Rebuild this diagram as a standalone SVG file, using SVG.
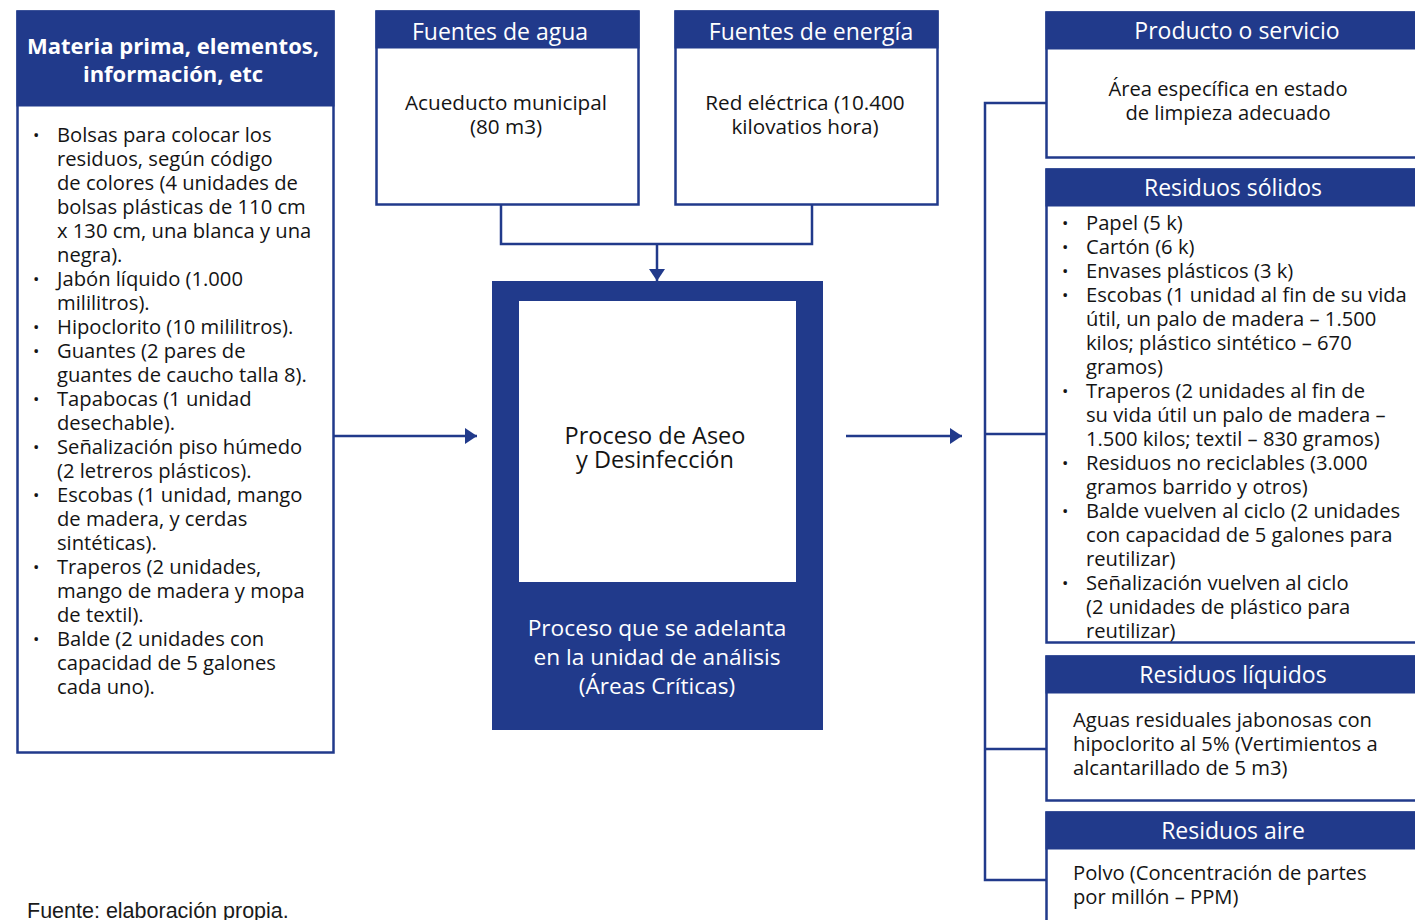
<svg xmlns="http://www.w3.org/2000/svg" width="1415" height="920" viewBox="0 0 1415 920">
  <style>
    .box { fill: #ffffff; stroke: #213a8b; stroke-width: 2.5; }
    .head { fill: #213a8b; }
    .wire { fill: none; stroke: #213a8b; stroke-width: 2.5; }
    .t { font-family: "Open Sans", "Liberation Sans", sans-serif; font-size: 20.2px; fill: #141414; }
    .b { font-size: 17px; }
    .m { font-size: 20.7px; }
    .big { font-size: 23.5px; }
    .h { font-family: "Open Sans", "Liberation Sans", sans-serif; font-size: 23px; fill: #ffffff; text-anchor: middle; }
    .hb { font-family: "Open Sans", "Liberation Sans", sans-serif; font-size: 22px; font-weight: bold; fill: #ffffff; text-anchor: middle; }
    .c { text-anchor: middle; }
    .w { font-family: "Open Sans", "Liberation Sans", sans-serif; font-size: 22.7px; fill: #ffffff; text-anchor: middle; }
    .foot { font-family: "Liberation Sans", Arial, sans-serif; font-size: 21.5px; fill: #1a1a1a; }
  </style>
  <defs>
    <marker id="arrow" viewBox="0 0 12 16" refX="12" refY="8" markerWidth="12" markerHeight="16" markerUnits="userSpaceOnUse" orient="auto">
      <path d="M0,0 L12,8 L0,16 Z" fill="#213a8b"/>
    </marker>
  </defs>
  <rect width="1415" height="920" fill="#ffffff"/>

  <!-- connectors -->
  <g id="connectors">
    <path class="wire" d="M501,205 V244 H812 V205"/>
    <path class="wire" d="M657,244 V281" marker-end="url(#arrow)"/>
    <path class="wire" d="M334,436 H477" marker-end="url(#arrow)"/>
    <path class="wire" d="M846,436 H962" marker-end="url(#arrow)"/>
    <path class="wire" d="M1046,103 H985 V880 H1046 M985,434 H1046 M985,749 H1046"/>
  </g>

  <!-- inputs: materials and elements -->
  <g id="materia-prima">
    <rect class="box" x="17.5" y="11.5" width="316" height="741"/>
    <rect class="head" x="16.5" y="10.5" width="318" height="96"/>
    <text class="hb" x="173" y="54">Materia prima, elementos,</text>
    <text class="hb" x="173" y="82">información, etc</text>
    <g class="t">
      <text class="b" x="33" y="141">•</text><text x="57" y="142">Bolsas para colocar los</text>
      <text x="57" y="166">residuos, según código</text>
      <text x="57" y="190">de colores (4 unidades de</text>
      <text x="57" y="214">bolsas plásticas de 110 cm</text>
      <text x="57" y="238">x 130 cm, una blanca y una</text>
      <text x="57" y="262">negra).</text>
      <text class="b" x="33" y="285">•</text><text x="57" y="286">Jabón líquido (1.000</text>
      <text x="57" y="310">mililitros).</text>
      <text class="b" x="33" y="333">•</text><text x="57" y="334">Hipoclorito (10 mililitros).</text>
      <text class="b" x="33" y="357">•</text><text x="57" y="358">Guantes (2 pares de</text>
      <text x="57" y="382">guantes de caucho talla 8).</text>
      <text class="b" x="33" y="405">•</text><text x="57" y="406">Tapabocas (1 unidad</text>
      <text x="57" y="430">desechable).</text>
      <text class="b" x="33" y="453">•</text><text x="57" y="454">Señalización piso húmedo</text>
      <text x="57" y="478">(2 letreros plásticos).</text>
      <text class="b" x="33" y="501">•</text><text x="57" y="502">Escobas (1 unidad, mango</text>
      <text x="57" y="526">de madera, y cerdas</text>
      <text x="57" y="550">sintéticas).</text>
      <text class="b" x="33" y="573">•</text><text x="57" y="574">Traperos (2 unidades,</text>
      <text x="57" y="598">mango de madera y mopa</text>
      <text x="57" y="622">de textil).</text>
      <text class="b" x="33" y="645">•</text><text x="57" y="646">Balde (2 unidades con</text>
      <text x="57" y="670">capacidad de 5 galones</text>
      <text x="57" y="694">cada uno).</text>
    </g>
  </g>

  <!-- water sources -->
  <g id="fuentes-agua">
    <rect class="box" x="376.5" y="11.5" width="262" height="193"/>
    <rect class="head" x="375.5" y="10.5" width="264" height="38"/>
    <text class="h" x="500" y="40">Fuentes de agua</text>
    <text class="t c m" x="506" y="110">Acueducto municipal</text>
    <text class="t c m" x="506" y="134">(80 m3)</text>
  </g>

  <!-- energy sources -->
  <g id="fuentes-energia">
    <rect class="box" x="675.5" y="11.5" width="262" height="193"/>
    <rect class="head" x="674.5" y="10.5" width="264" height="38"/>
    <text class="h" x="811" y="40">Fuentes de energía</text>
    <text class="t c m" x="805" y="110">Red eléctrica (10.400</text>
    <text class="t c m" x="805" y="134">kilovatios hora)</text>
  </g>

  <!-- central process -->
  <g id="proceso">
    <rect class="head" x="492" y="281" width="331" height="449"/>
    <rect fill="#ffffff" x="519" y="301" width="277" height="281"/>
    <text class="t c big" x="655" y="444">Proceso de Aseo</text>
    <text class="t c big" x="655" y="468">y Desinfección</text>
    <text class="w" x="657" y="636">Proceso que se adelanta</text>
    <text class="w" x="657" y="665">en la unidad de análisis</text>
    <text class="w" x="657" y="694">(Áreas Críticas)</text>
  </g>

  <!-- outputs -->
  <g id="producto">
    <rect class="box" x="1046.5" y="12.5" width="380" height="145"/>
    <rect class="head" x="1045.5" y="11.5" width="380" height="38"/>
    <text class="h" x="1237" y="39">Producto o servicio</text>
    <text class="t c" x="1228" y="96">Área específica en estado</text>
    <text class="t c" x="1228" y="120">de limpieza adecuado</text>
  </g>

  <g id="residuos-solidos">
    <rect class="box" x="1046.5" y="169.5" width="380" height="473"/>
    <rect class="head" x="1045.5" y="168.5" width="380" height="38"/>
    <text class="h" x="1233" y="196">Residuos sólidos</text>
    <g class="t">
      <text class="b" x="1062" y="229">•</text><text x="1086" y="230">Papel (5 k)</text>
      <text class="b" x="1062" y="253">•</text><text x="1086" y="254">Cartón (6 k)</text>
      <text class="b" x="1062" y="277">•</text><text x="1086" y="278">Envases plásticos (3 k)</text>
      <text class="b" x="1062" y="301">•</text><text x="1086" y="302">Escobas (1 unidad al fin de su vida</text>
      <text x="1086" y="326">útil, un palo de madera – 1.500</text>
      <text x="1086" y="350">kilos; plástico sintético – 670</text>
      <text x="1086" y="374">gramos)</text>
      <text class="b" x="1062" y="397">•</text><text x="1086" y="398">Traperos (2 unidades al fin de</text>
      <text x="1086" y="422">su vida útil un palo de madera –</text>
      <text x="1086" y="446">1.500 kilos; textil – 830 gramos)</text>
      <text class="b" x="1062" y="469">•</text><text x="1086" y="470">Residuos no reciclables (3.000</text>
      <text x="1086" y="494">gramos barrido y otros)</text>
      <text class="b" x="1062" y="517">•</text><text x="1086" y="518">Balde vuelven al ciclo (2 unidades</text>
      <text x="1086" y="542">con capacidad de 5 galones para</text>
      <text x="1086" y="566">reutilizar)</text>
      <text class="b" x="1062" y="589">•</text><text x="1086" y="590">Señalización vuelven al ciclo</text>
      <text x="1086" y="614">(2 unidades de plástico para</text>
      <text x="1086" y="638">reutilizar)</text>
    </g>
  </g>

  <g id="residuos-liquidos">
    <rect class="box" x="1046.5" y="656.5" width="380" height="144"/>
    <rect class="head" x="1045.5" y="655.5" width="380" height="38"/>
    <text class="h" x="1233" y="683">Residuos líquidos</text>
    <text class="t" x="1073" y="727">Aguas residuales jabonosas con</text>
    <text class="t" x="1073" y="751">hipoclorito al 5% (Vertimientos a</text>
    <text class="t" x="1073" y="775">alcantarillado de 5 m3)</text>
  </g>

  <g id="residuos-aire">
    <rect class="box" x="1046.5" y="812.5" width="380" height="140"/>
    <rect class="head" x="1045.5" y="811.5" width="380" height="38"/>
    <text class="h" x="1233" y="839">Residuos aire</text>
    <text class="t" x="1073" y="880">Polvo (Concentración de partes</text>
    <text class="t" x="1073" y="904">por millón – PPM)</text>
  </g>

  <text class="foot" x="27" y="918">Fuente: elaboración propia.</text>
</svg>
